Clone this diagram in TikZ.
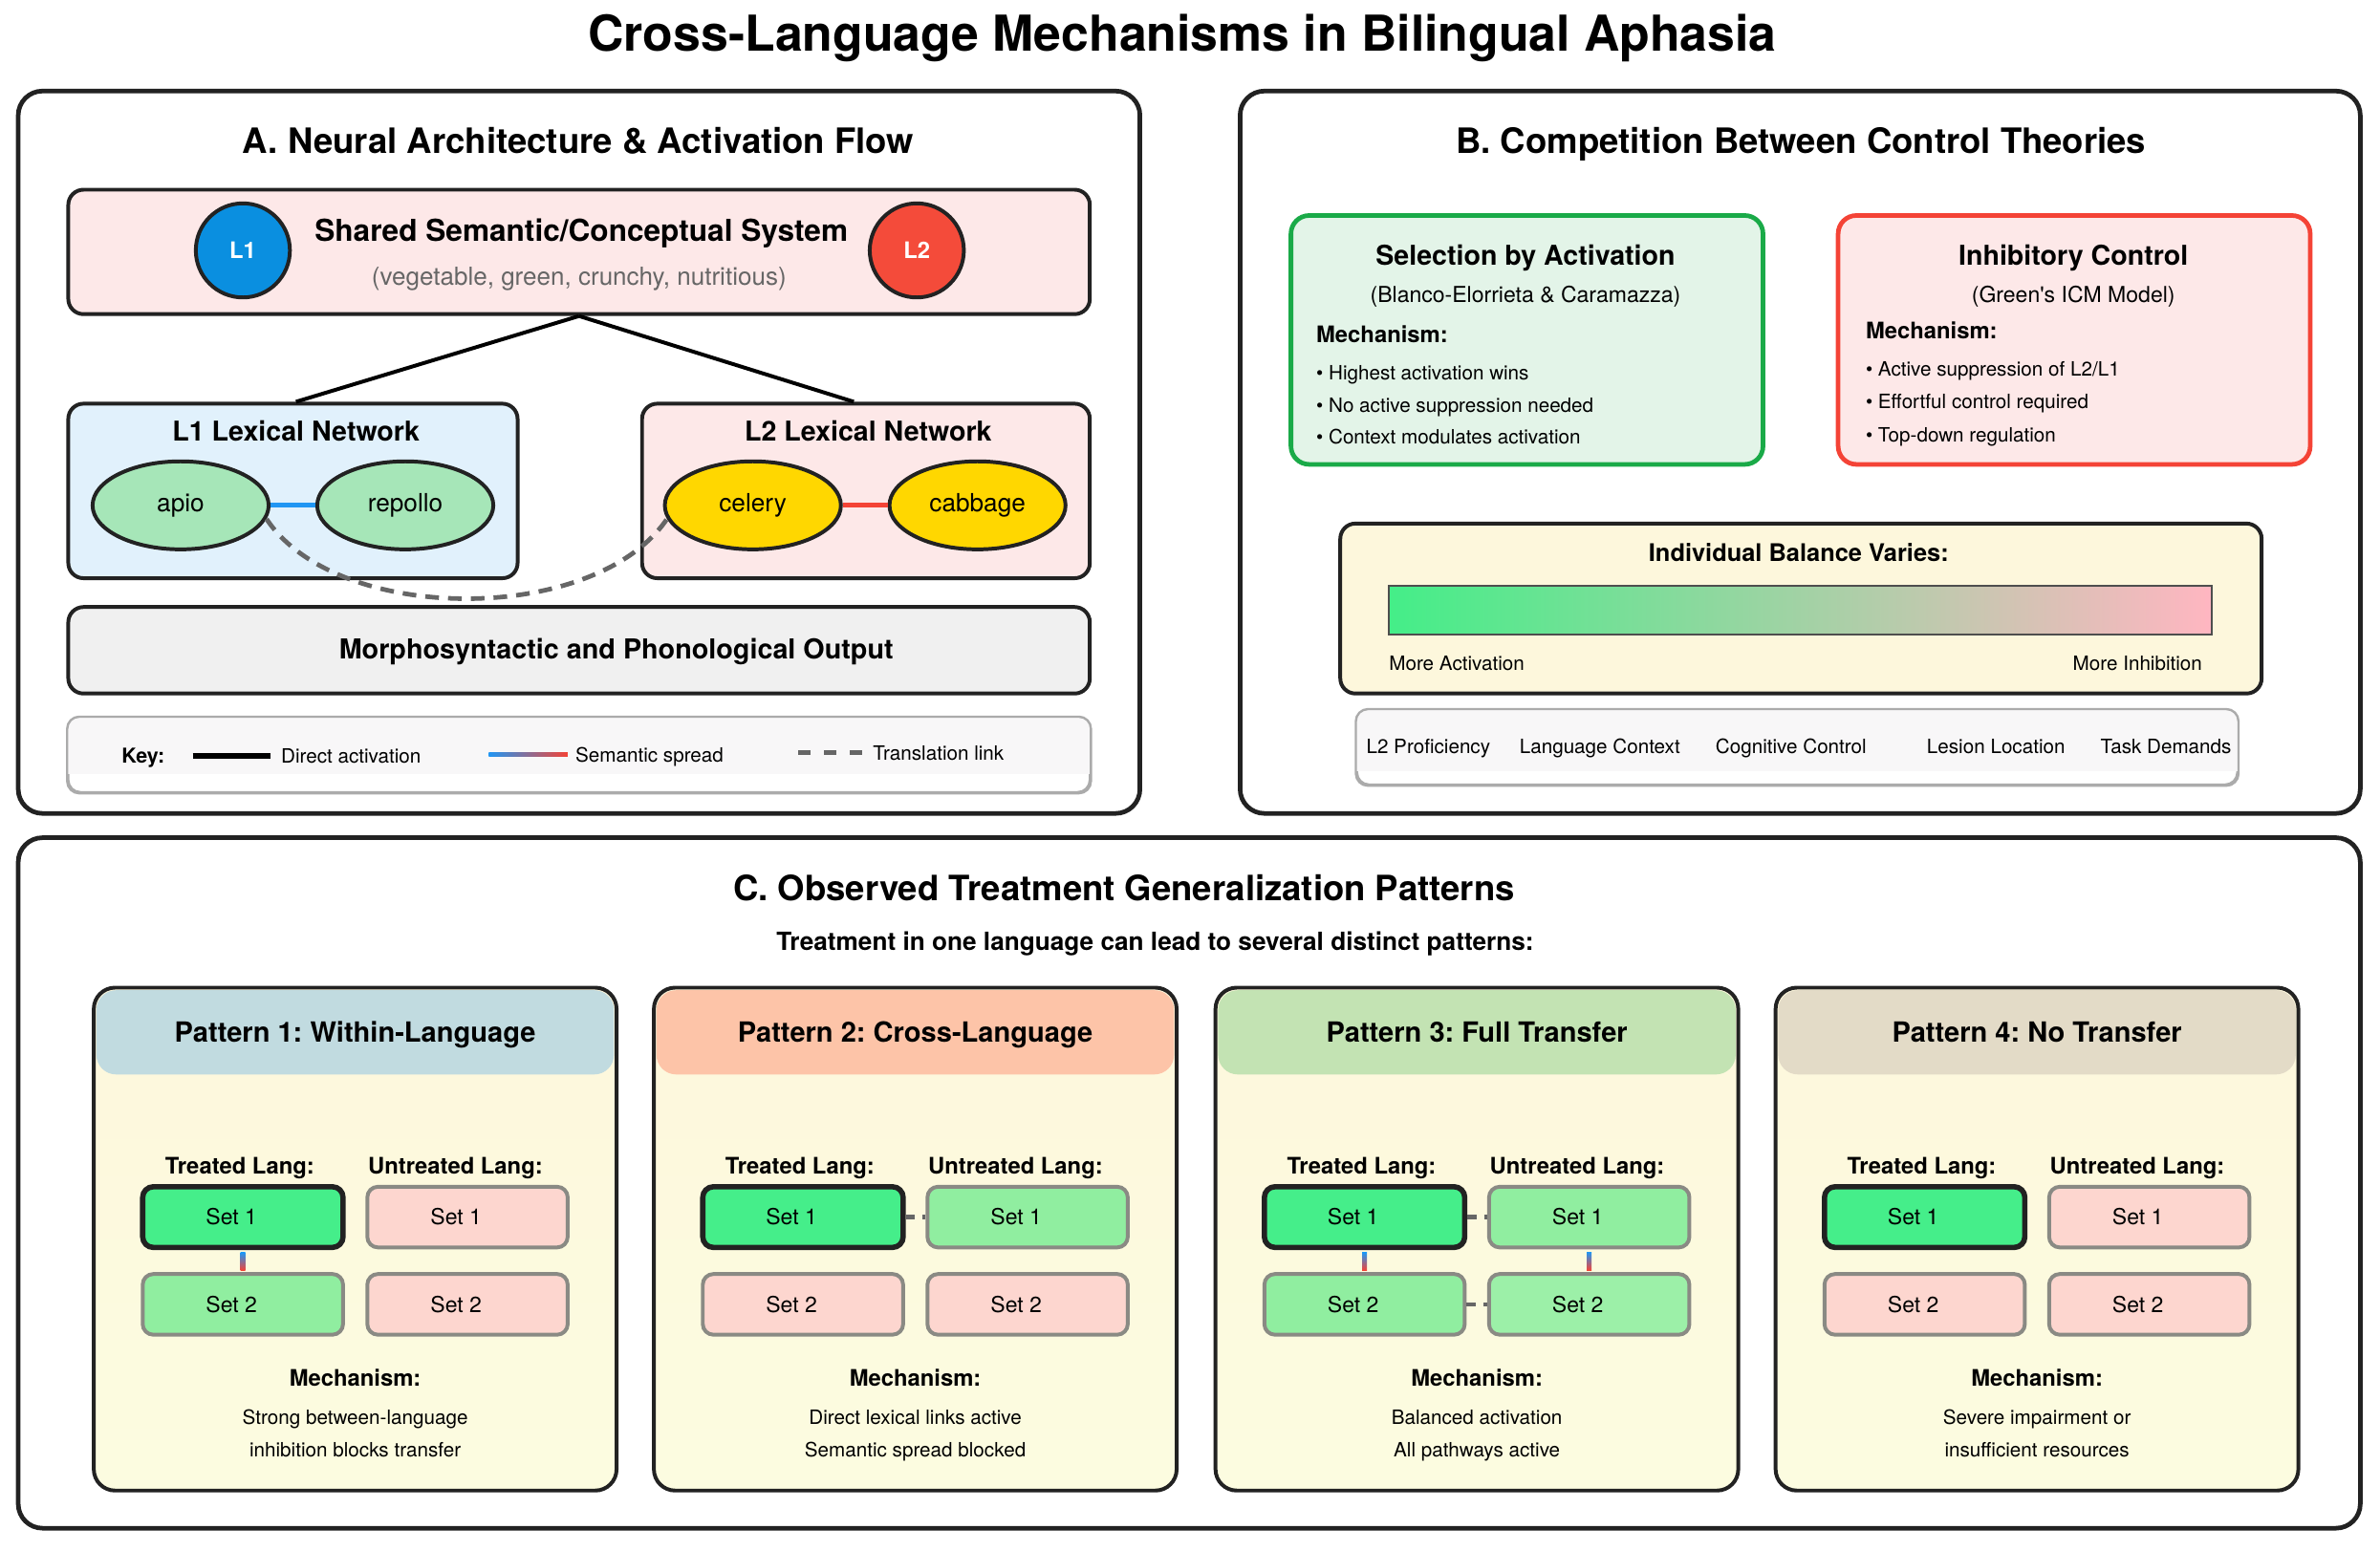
\documentclass[tikz,border=0pt]{standalone}
\usepackage{fontspec}
\setmainfont{TeX Gyre Heros}
\usetikzlibrary{calc,shapes.geometric}
\definecolor{ink}{HTML}{222222}
\definecolor{pinkbg}{HTML}{FDE8E8}
\definecolor{bluebg}{HTML}{E1F1FC}
\definecolor{greybg}{HTML}{F0F0F0}
\definecolor{lonecol}{HTML}{0A8FE0}
\definecolor{ltwocol}{HTML}{F44B3A}
\definecolor{ellgreen}{HTML}{A6E6B8}
\definecolor{goldcol}{HTML}{FFD700}
\definecolor{selgreen}{HTML}{1AAA48}
\definecolor{selfill}{HTML}{E3F4E8}
\definecolor{inhred}{HTML}{F44336}
\definecolor{creamcol}{HTML}{FDF7DC}
\definecolor{creamlow}{HTML}{FCFCE0}
\definecolor{keybg}{HTML}{F8F7F8}
\definecolor{keyline}{HTML}{ABABAB}
\definecolor{brightgrn}{HTML}{45EE8A}
\definecolor{lightgrn}{HTML}{90EEA0}
\definecolor{lightgrnb}{HTML}{9CF0A8}
\definecolor{setpink}{HTML}{FDD6CF}
\definecolor{setgrey}{HTML}{8A8A84}
\definecolor{hdone}{HTML}{C1DBE0}
\definecolor{hdtwo}{HTML}{FDC4A8}
\definecolor{hdthree}{HTML}{C3E3B3}
\definecolor{hdfour}{HTML}{E3DBC7}
\definecolor{linkgrey}{HTML}{666666}
\definecolor{subgrey}{HTML}{666666}
\definecolor{semblue}{HTML}{2196F3}
\definecolor{semred}{HTML}{F44336}
\definecolor{barleft}{HTML}{44EE88}
\definecolor{barmid}{HTML}{CCD4A8}
\definecolor{barright}{HTML}{FFB6C1}
\newcommand{\fsz}[1]{\fontsize{#1}{#1}\selectfont}
\tikzset{
  panelbox/.style={draw=ink, line width=3, rounded corners=16, fill=white, inner sep=0},
  subbox/.style={draw=ink, line width=2.5, rounded corners=10, inner sep=0},
  keyframe/.style={draw=keyline, line width=1.5, rounded corners=8, fill=white, inner sep=0},
  lexell/.style={ellipse, draw=ink, line width=2.5, minimum width=116, minimum height=58, inner sep=0, font=\fsz{16.5}},
  langdot/.style={circle, draw=ink, line width=2.5, minimum size=62, inner sep=0, text=white, font=\bfseries\fsz{15}},
  direct/.style={draw=black, line width=2.5},
  transl/.style={draw=linkgrey, line width=3},
  theory/.style={line width=3, rounded corners=12, inner sep=0, minimum width=311, minimum height=164},
  txt/.style={inner sep=0, anchor=base},
  txtl/.style={inner sep=0, anchor=base west},
  txtr/.style={inner sep=0, anchor=base east},
  setbox/.style={rectangle, rounded corners=7, minimum width=132, minimum height=40, inner sep=0, font=\fsz{14.5}},
  setact/.style={setbox, fill=brightgrn, draw=ink, line width=3.5},
  setpart/.style={setbox, fill=lightgrn, draw=setgrey, line width=2.5},
  setpartb/.style={setbox, fill=lightgrnb, draw=setgrey, line width=2.5},
  setnone/.style={setbox, fill=setpink, draw=setgrey, line width=2.5},
  patbox/.style={rectangle, rounded corners=14, inner sep=0, minimum width=344, minimum height=331, top color=creamcol, bottom color=creamlow},
}
% #1 id, #2 x0, #3 header colour, #4 title, #5..#8 styles of t1 u1 t2 u2
\newcommand{\patt}[8]{%
  \node[patbox] (#1box) at (#2+172,816.5) {};
  \fill[#3, rounded corners=13] (#2+1.5,708) -- (#2+1.5,652.5) -- (#2+342.5,652.5) -- (#2+342.5,708) -- cycle;
  \draw[ink, line width=2.5, rounded corners=14] (#1box.north west) rectangle (#1box.south east);
  \node[txt, font=\bfseries\fsz{18.3}] (#1title) at (#2+172,686.5) {#4};
  \node[txt, font=\bfseries\fsz{15}] (#1tl) at (#2+96,773.4) {Treated Lang:};
  \node[txt, font=\bfseries\fsz{15}] (#1ul) at (#2+238,773.4) {Untreated Lang:};
  \node[#5] (#1t1) at (#2+98,802) {Set 1\hspace*{15pt}};
  \node[#6] (#1u1) at (#2+246,802) {Set 1\hspace*{15pt}};
  \node[#7] (#1t2) at (#2+98,859.5) {Set 2\hspace*{15pt}};
  \node[#8] (#1u2) at (#2+246,859.5) {Set 2\hspace*{15pt}};
  \node[txt, font=\bfseries\fsz{15}] (#1mech) at (#2+172,913.4) {Mechanism:};
}
\newcommand{\semvert}[2]{%
  \shade[top color=semblue, bottom color=semred] ($([yshift=-1.75pt]#1.south)+(-1.6,0)$) rectangle ($([yshift=1.25pt]#2.north)+(1.6,0)$);
}
\newcommand{\translh}[2]{%
  \draw[transl, dash pattern=on 6 off 5] (#1.east) -- (#2.west);
}
\begin{document}
\frenchspacing
\begin{tikzpicture}[x=1pt,y=-1pt]
\useasboundingbox (0,0) rectangle (1568,1022);
\fill[white] (0,0) rectangle (1568,1022);

\node[txt, font=\bfseries\fsz{32.6}] (title) at (779,33.7) {Cross-Language Mechanisms in Bilingual Aphasia};

% ---------------- Panel A ----------------
\node[panelbox, minimum width=739, minimum height=476] (panA) at (381.5,298) {};
\node[txt, font=\bfseries\fsz{23}] (titA) at (381,101.3) {A. Neural Architecture \& Activation Flow};

\node[subbox, fill=pinkbg, minimum width=673, minimum height=82] (shared) at (381.5,166) {};
\node[langdot, fill=lonecol] (cl1) at (160,165) {L1};
\node[langdot, fill=ltwocol] (cl2) at (604,165) {L2};
\node[txt, font=\bfseries\fsz{19.9}] (sharedt) at (383,159.2) {Shared Semantic/Conceptual System};
\node[txt, font=\fsz{16.4}, text=subgrey] (shareds) at (381.5,188) {(vegetable, green, crunchy, nutritious)};

\node[subbox, fill=bluebg, minimum width=296, minimum height=115] (lonenet) at (193,323.5) {};
\node[subbox, fill=pinkbg, minimum width=295, minimum height=115] (ltwonet) at (570.5,323.5) {};
\node[txt, font=\bfseries\fsz{18}] (lonet) at (195,290.5) {L1 Lexical Network};
\node[txt, font=\bfseries\fsz{18}] (ltwot) at (572,290.5) {L2 Lexical Network};

\draw[direct] (shared.south) -- ([xshift=2pt]lonenet.north);
\draw[direct] (shared.south) -- ([xshift=-8pt]ltwonet.north);

\node[lexell, fill=ellgreen] (apio) at (119,333) {apio};
\node[lexell, fill=ellgreen] (repollo) at (267,333) {repollo};
\node[lexell, fill=goldcol] (celery) at (496,333) {celery};
\node[lexell, fill=goldcol] (cabbage) at (644,333) {cabbage};
\draw[semblue, line width=3] (apio) -- (repollo);
\draw[semred, line width=3] (celery) -- (cabbage);

\node[subbox, fill=greybg, minimum width=673, minimum height=57] (morph) at (381.5,428.5) {};
\node[txt, font=\bfseries\fsz{18.1}] (morpht) at (406,434) {Morphosyntactic and Phonological Output};

\draw[transl, dash pattern=on 9 off 6] (apio.-9) .. controls (222,412) and (392,412) .. (celery.189);

\node[keyframe, minimum width=673, minimum height=49] (keybox) at (381.5,497.5) {};
\begin{scope}
  \clip[rounded corners=8] (keybox.north west) rectangle (keybox.south east);
  \fill[keybg] (keybox.north west) rectangle (718,510);
\end{scope}
\draw[keyline, line width=1.5, rounded corners=8] (keybox.north west) rectangle (keybox.south east);
\node[txtl, font=\bfseries\fsz{13.5}] (keyt) at (80,503) {Key:};
\coordinate (kda) at (127,498);
\coordinate (kdb) at (178,498);
\draw[black, line width=3.5] (kda) -- (kdb);
\node[txtl, font=\fsz{13}] (keyd) at (185,503) {Direct activation};
\coordinate (ksa) at (322,495.7);
\coordinate (ksb) at (374,498.7);
\shade[left color=semblue, right color=semred] (ksa) rectangle (ksb);
\node[txtl, font=\fsz{13}] (keys) at (379,502) {Semantic spread};
\coordinate (kta) at (526,496);
\coordinate (ktb) at (568,496);
\draw[transl, dash pattern=on 8 off 9] (kta) -- (ktb);
\node[txtl, font=\fsz{13}] (keytr) at (575,501) {Translation link};

% ---------------- Panel B ----------------
\node[panelbox, minimum width=738, minimum height=476] (panB) at (1186,298) {};
\node[txt, font=\bfseries\fsz{23}] (titB) at (1186.5,101.3) {B. Competition Between Control Theories};

\node[theory, draw=selgreen, fill=selfill] (selbox) at (1006,224) {};
\node[txt, font=\bfseries\fsz{18}] (selt) at (1005,174.5) {Selection by Activation};
\node[txt, font=\fsz{14.5}] (sels) at (1005,199) {(Blanco-Elorrieta \& Caramazza)};
\node[txtl, font=\bfseries\fsz{15}] (selm) at (867,225.5) {Mechanism:};
\node[txtl, font=\fsz{13}] (selba) at (867,250.5) {• Highest activation wins};
\node[txtl, font=\fsz{13}] (selbb) at (867,271.5) {• No active suppression needed};
\node[txtl, font=\fsz{13}] (selbc) at (867,292.5) {• Context modulates activation};

\node[theory, draw=inhred, fill=pinkbg] (inhbox) at (1366.5,224) {};
\node[txt, font=\bfseries\fsz{18}] (inht) at (1366,174.5) {Inhibitory Control};
\node[txt, font=\fsz{14.5}] (inhs) at (1366,199) {(Green\textquotesingle s ICM Model)};
\node[txtl, font=\bfseries\fsz{15}] (inhm) at (1229,223.5) {Mechanism:};
\node[txtl, font=\fsz{13}] (inhba) at (1229,247.5) {• Active suppression of L2/L1};
\node[txtl, font=\fsz{13}] (inhbb) at (1229,269.5) {• Effortful control required};
\node[txtl, font=\fsz{13}] (inhbc) at (1229,291.5) {• Top-down regulation};

\node[subbox, fill=creamcol, minimum width=607, minimum height=112] (balbox) at (1186.5,401) {};
\node[txt, font=\bfseries\fsz{16}] (balt) at (1185,370) {Individual Balance Varies:};
\node[draw=ink!80, line width=1.5, inner sep=0, minimum width=542, minimum height=32, left color=barleft, middle color=barmid, right color=barright] (bar) at (1186,402) {};
\node[txtl, font=\fsz{13}] (bala) at (915,441.5) {More Activation};
\node[txtr, font=\fsz{13}] (bali) at (1451,441.5) {More Inhibition};

\node[keyframe, minimum width=580, minimum height=49] (facbox) at (1184,492.5) {};
\begin{scope}
  \clip[rounded corners=8] (facbox.north west) rectangle (facbox.south east);
  \fill[keybg] (facbox.north west) rectangle (1474,508);
\end{scope}
\draw[keyline, line width=1.5, rounded corners=8] (facbox.north west) rectangle (facbox.south east);
\node[txt, font=\fsz{13}] (faca) at (941,496.5) {L2 Proficiency};
\node[txt, font=\fsz{13}] (facb) at (1054,496.5) {Language Context};
\node[txt, font=\fsz{13}] (facc) at (1180,496.5) {Cognitive Control};
\node[txt, font=\fsz{13}] (facd) at (1315,496.5) {Lesion Location};
\node[txt, font=\fsz{13}] (face) at (1427,496.5) {Task Demands};

% ---------------- Panel C ----------------
\node[panelbox, minimum width=1543, minimum height=455] (panC) at (783.5,779.5) {};
\node[txt, font=\bfseries\fsz{23}] (titC) at (740.5,593.3) {C. Observed Treatment Generalization Patterns};
\node[txt, font=\bfseries\fsz{16.5}] (subC) at (761,626) {Treatment in one language can lead to several distinct patterns:};

\patt{pa}{62}{hdone}{Pattern 1: Within-Language}{setact}{setnone}{setpart}{setnone}
\semvert{pat1}{pat2}
\node[txt, font=\fsz{13}] (pada) at (234,938.7) {Strong between-language};
\node[txt, font=\fsz{13}] (padb) at (234,959.7) {inhibition blocks transfer};

\patt{pb}{431}{hdtwo}{Pattern 2: Cross-Language}{setact}{setpart}{setnone}{setnone}
\translh{pbt1}{pbu1}
\node[txt, font=\fsz{13}] (pbda) at (603,938.7) {Direct lexical links active};
\node[txt, font=\fsz{13}] (pbdb) at (603,959.7) {Semantic spread blocked};

\patt{pc}{801}{hdthree}{Pattern 3: Full Transfer}{setact}{setpart}{setpart}{setpartb}
\semvert{pct1}{pct2}
\semvert{pcu1}{pcu2}
\translh{pct1}{pcu1}
\translh{pct2}{pcu2}
\node[txt, font=\fsz{13}] (pcda) at (973,938.7) {Balanced activation};
\node[txt, font=\fsz{13}] (pcdb) at (973,959.7) {All pathways active};

\patt{pd}{1170}{hdfour}{Pattern 4: No Transfer}{setact}{setnone}{setnone}{setnone}
\node[txt, font=\fsz{13}] (pdda) at (1342,938.7) {Severe impairment or};
\node[txt, font=\fsz{13}] (pddb) at (1342,959.7) {insufficient resources};
\end{tikzpicture}
\end{document}
